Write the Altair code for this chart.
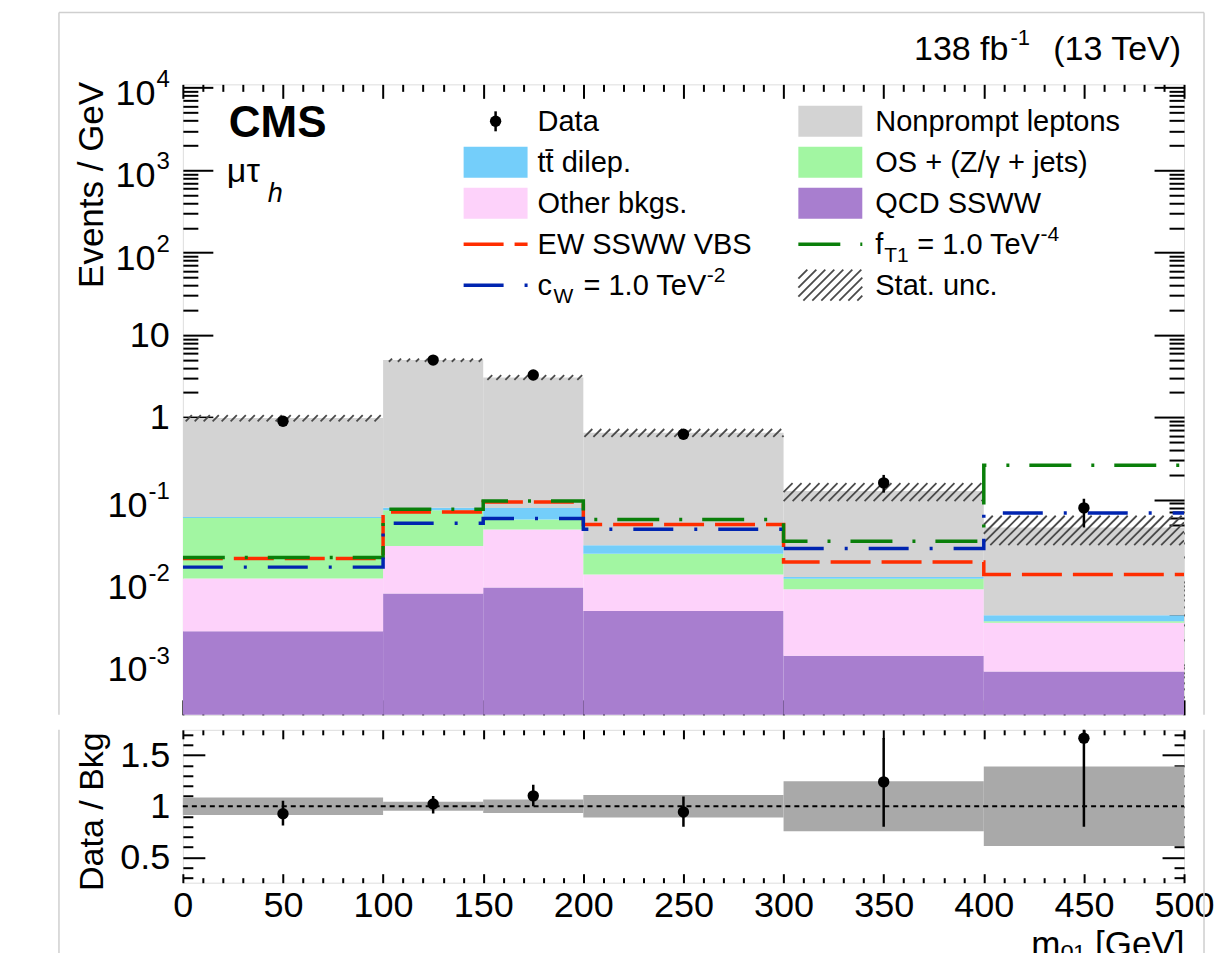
import json
import math
import pandas as pd
import altair as alt

# ---------------- values ----------------
bin_lo = [0, 100, 150, 200, 300, 400]
bin_hi = [100, 150, 200, 300, 400, 500]
bin_center = [50, 125, 175, 250, 350, 450]

# stacked backgrounds (events / GeV), bottom to top
qcd_ssww = [0.00254, 0.00726, 0.00859, 0.00445, 0.00128, 0.00082]
other_bkgs = [0.0085, 0.0202, 0.0348, 0.0079, 0.0069, 0.0024]
os_z_jets = [0.0491, 0.0471, 0.0140, 0.0098, 0.0028, 0.00012]
ttbar_dilep = [0.0017, 0.0056, 0.0222, 0.0059, 0.00055, 0.00061]
nonprompt = [0.918, 4.87, 2.97, 0.622, 0.116, 0.042]

data_obs = [0.895, 4.95, 3.26, 0.622, 0.160, 0.0796]
data_lo = [0.80, 4.64, 3.00, 0.543, 0.122, 0.046]
data_hi = [0.99, 5.26, 3.52, 0.701, 0.200, 0.103]

ew_ssww_vbs = [0.0193, 0.0711, 0.0940, 0.0499, 0.0176, 0.0124]
f_t1 = [0.0199, 0.0767, 0.0966, 0.0574, 0.0314, 0.262]
c_w = [0.0152, 0.0519, 0.0590, 0.0439, 0.0255, 0.0692]

stat_unc_rel = [0.086, 0.045, 0.067, 0.11, 0.245, 0.39]

ratio_obs = [0.927, 1.023, 1.102, 0.943, 1.239, 1.668]
ratio_lo = [0.81, 0.93, 1.00, 0.80, 0.80, 0.80]
ratio_hi = [1.055, 1.10, 1.21, 1.095, 1.67, 2.30]

stack_names = ["QCD SSWW", "Other bkgs.", "OS + (Z/\u03b3 + jets)", "tt\u0304 dilep.", "Nonprompt leptons"]
stack_colors = ["#A87ECF", "#FDD2FA", "#A2F6A2", "#74CEFA", "#D3D3D3"]

y_tick_values = [1e-3, 1e-2, 1e-1, 1, 10, 100, 1e3, 1e4]
y_tick_base = ["10", "10", "10", "1", "10", "10", "10", "10"]
y_tick_exp = ["-3", "-2", "-1", "", "", "2", "3", "4"]
x_tick_values = [0, 50, 100, 150, 200, 250, 300, 350, 400, 450, 500]
x_tick_labels = ["0", "50", "100", "150", "200", "250", "300", "350", "400", "450", "500"]
r_tick_values = [0.5, 1.0, 1.5]
r_tick_labels = ["0.5", "1", "1.5"]

# ---------------- layout constants ----------------
W, H, H2, GAP = 1002, 631, 153, 11
XMIN, XMAX = 0, 500
YMIN, YMAX = 2.45e-4, 1.1e4
RMIN, RMAX = 0.25, 1.75
FONT = "Liberation Sans"
TICK_FS, EXP_FS, TITLE_FS, LEG_FS, SUB_FS = 36, 24, 34, 29, 21
CHAR_W = {"-": 0.333, "0": 0.556, "1": 0.556, "2": 0.556, "3": 0.556, "4": 0.556}

x_top = alt.Scale(domain=[XMIN, XMAX], nice=False, zero=False)
y_top = alt.Scale(type="log", domain=[YMIN, YMAX], nice=False)
x_rat = alt.Scale(domain=[XMIN, XMAX], nice=False, zero=False)
y_rat = alt.Scale(domain=[RMIN, RMAX], nice=False, zero=False)

x_minor = [v for v in range(0, 501, 10) if v % 50]
y_minor = [m * 10.0 ** e for e in range(-4, 5) for m in range(2, 10) if YMIN <= m * 10.0 ** e <= YMAX]
r_minor = [round(0.3 + 0.1 * i, 1) for i in range(15) if round(0.3 + 0.1 * i, 1) not in r_tick_values]


def tick_axis(orient, offset, values, size, width=2):
    return alt.Axis(orient=orient, offset=offset, values=values, tickSize=size, tickWidth=width,
                    tickColor="black", labels=False, domain=False, grid=False, title=None, ticks=True)


def label_expr(values, labels):
    return json.dumps(labels) + "[indexof(" + json.dumps(values) + ", datum.value)]"


def px(field):
    return alt.X(field, scale=None, axis=None)


def py(field):
    return alt.Y(field, scale=None, axis=None)


# ---------------- top panel data ----------------
rows = []
cum = [0.0] * 6
for name, vals in zip(stack_names, [qcd_ssww, other_bkgs, os_z_jets, ttbar_dilep, nonprompt]):
    for i in range(6):
        y0 = cum[i] if cum[i] > 0 else YMIN * 0.1
        y1 = cum[i] + vals[i]
        rows.append({"name": name, "lo": bin_lo[i], "hi": bin_hi[i], "y0": y0, "y1": y1})
        cum[i] = y1
stack_df = pd.DataFrame(rows)
total = cum[:]

# hatched statistical uncertainty band, drawn as 45-degree strokes
PX_PER_DEC = H / (math.log10(YMAX) - math.log10(YMIN))
PX_PER_GEV = W / (XMAX - XMIN)
HATCH_STEP = 9.0 / PX_PER_GEV
hrows = []
for i in range(6):
    llo = math.log10(total[i] * (1 - stat_unc_rel[i]))
    lhi = math.log10(total[i] * (1 + stat_unc_rel[i]))
    d = (lhi - llo) * PX_PER_DEC / PX_PER_GEV
    x0 = bin_lo[i] - d
    while x0 < bin_hi[i]:
        xa, xb, ta, tb = x0, x0 + d, 0.0, 1.0
        if xa < bin_lo[i]:
            ta = (bin_lo[i] - x0) / d
            xa = bin_lo[i]
        if xb > bin_hi[i]:
            tb = (bin_hi[i] - x0) / d
            xb = bin_hi[i]
        if xb > xa:
            hrows.append({"xa": xa, "xb": xb,
                          "ya": 10 ** (llo + ta * (lhi - llo)), "yb": 10 ** (llo + tb * (lhi - llo))})
        x0 += HATCH_STEP
hatch_df = pd.DataFrame(hrows)


def step_df(vals):
    return pd.DataFrame({"x": bin_lo + [bin_hi[-1]], "y": list(vals) + [vals[-1]]})


line_specs = [
    ("EW SSWW VBS", ew_ssww_vbs, "#FF2D00", [40, 11]),
    ("fT1", f_t1, "#0A7F0A", [42, 20, 3, 20]),
    ("cW", c_w, "#0024B0", [40, 21, 3, 21]),
]

data_df = pd.DataFrame({"x": bin_center, "y": data_obs, "lo": data_lo, "hi": data_hi})

# ---------------- top panel layers ----------------
yl_axis = alt.Axis(orient="left", values=y_tick_values, labels=False, ticks=False, tickSize=0,
                   domain=False, grid=False,
                   title="Events / GeV", titleFontSize=TITLE_FS + 1, titleFont=FONT, titleFontWeight="normal",
                   titleColor="black", titleX=-80, titleY=-3, titleAlign="right", titleBaseline="alphabetic",
                   titleAngle=270)

stack = alt.Chart(stack_df).mark_rect(clip=True).encode(
    x=alt.X("lo:Q", scale=x_top, axis=tick_axis("top", -H, x_tick_values, 15)),
    x2="hi:Q",
    y=alt.Y("y0:Q", scale=y_top, axis=yl_axis),
    y2="y1:Q",
    color=alt.Color("name:N", scale=alt.Scale(domain=stack_names, range=stack_colors), legend=None),
)

hatch = alt.Chart(hatch_df).mark_rule(color="#4a4a4a", strokeWidth=1.8, clip=True).encode(
    x=alt.X("xa:Q", scale=x_top, axis=tick_axis("top", -H, x_minor, 8)),
    x2="xb:Q",
    y=alt.Y("ya:Q", scale=y_top, axis=tick_axis("right", -W, y_tick_values, 30)),
    y2="yb:Q",
)

line_axes = [
    (tick_axis("bottom", -H, x_tick_values, 14), tick_axis("right", -W, y_minor, 15)),
    (tick_axis("bottom", -H, x_minor, 7), tick_axis("left", -W, y_tick_values, 30)),
    (None, tick_axis("left", -W, y_minor, 15)),
]
lines = []
for (name, vals, col, dash), (ax, ay) in zip(line_specs, line_axes):
    lines.append(alt.Chart(step_df(vals)).mark_line(
        interpolate="step-after", color=col, strokeWidth=3.5, strokeDash=dash, clip=True).encode(
        x=alt.X("x:Q", scale=x_top, axis=ax),
        y=alt.Y("y:Q", scale=y_top, axis=ay),
    ))

err = alt.Chart(data_df).mark_rule(color="black", strokeWidth=2.5, clip=True).encode(
    x=alt.X("x:Q", scale=x_top, axis=None),
    y=alt.Y("lo:Q", scale=y_top, axis=None),
    y2="hi:Q",
)
pts = alt.Chart(data_df).mark_circle(color="black", size=130, opacity=1).encode(
    x=alt.X("x:Q", scale=x_top, axis=None),
    y=alt.Y("y:Q", scale=y_top, axis=None),
)

# y tick labels with real superscripted exponents
LBL_X = -13
ylab_df = pd.DataFrame({"value": y_tick_values, "base": y_tick_base, "exp": y_tick_exp})
ylab_df["bx"] = [LBL_X - (sum(CHAR_W[c] for c in e) * EXP_FS + 1 if e else 0) for e in y_tick_exp]
ylab_exp_rows = ylab_df[ylab_df["exp"] != ""]
ylab_plain_rows = ylab_df[ylab_df["exp"] == ""]
ylab_base_e = alt.Chart(ylab_exp_rows).mark_text(align="right", baseline="middle", font=FONT,
                                                 fontSize=TICK_FS, color="black", dy=6).encode(
    x=px("bx:Q"), y=alt.Y("value:Q", scale=y_top, axis=None), text="base:N")
ylab_exp = alt.Chart(ylab_exp_rows).mark_text(align="right", baseline="middle", font=FONT,
                                              fontSize=EXP_FS, color="black", dy=-8).encode(
    x=alt.value(LBL_X), y=alt.Y("value:Q", scale=y_top, axis=None), text="exp:N")
ylab_plain = alt.Chart(ylab_plain_rows).mark_text(align="right", baseline="middle", font=FONT,
                                                  fontSize=TICK_FS, color="black", dy=1).encode(
    x=px("bx:Q"), y=alt.Y("value:Q", scale=y_top, axis=None), text="base:N")

# ---------------- legend (pixel layout inside the plot) ----------------
COL_X = [281, 616]
ROW_Y = [37 + 41 * r for r in range(5)]
BOX_W, BOX_H = 64, 31
leg_boxes = pd.DataFrame([
    {"x": COL_X[0], "row": 1, "color": stack_colors[3]},
    {"x": COL_X[0], "row": 2, "color": stack_colors[1]},
    {"x": COL_X[1], "row": 0, "color": stack_colors[4]},
    {"x": COL_X[1], "row": 1, "color": stack_colors[2]},
    {"x": COL_X[1], "row": 2, "color": stack_colors[0]},
])
leg_boxes["x2"] = leg_boxes["x"] + BOX_W
leg_boxes["y"] = [ROW_Y[r] - BOX_H / 2 for r in leg_boxes["row"]]
leg_boxes["y2"] = leg_boxes["y"] + BOX_H
leg_box_layer = alt.Chart(leg_boxes).mark_rect().encode(
    x=px("x:Q"), x2="x2:Q", y=py("y:Q"), y2="y2:Q", color=alt.Color("color:N", scale=None))

leg_line_layers = []
for (name, vals, col, dash), (cx, r) in zip(line_specs, [(0, 3), (1, 3), (0, 4)]):
    ldf = pd.DataFrame({"x": [COL_X[cx]], "x2": [COL_X[cx] + BOX_W], "y": [ROW_Y[r]]})
    leg_line_layers.append(alt.Chart(ldf).mark_rule(color=col, strokeWidth=3.5, strokeDash=dash).encode(
        x=px("x:Q"), x2="x2:Q", y=py("y:Q")))

leg_data_df = pd.DataFrame({"x": [COL_X[0] + BOX_W / 2], "y": [ROW_Y[0]],
                            "y0": [ROW_Y[0] - 10], "y1": [ROW_Y[0] + 10]})
leg_data_err = alt.Chart(leg_data_df).mark_rule(color="black", strokeWidth=2.5).encode(
    x=px("x:Q"), y=py("y0:Q"), y2="y1:Q")
leg_data_pt = alt.Chart(leg_data_df).mark_circle(color="black", size=130, opacity=1).encode(
    x=px("x:Q"), y=py("y:Q"))

# hatched legend box
hb_x0, hb_x1 = COL_X[1], COL_X[1] + BOX_W
hb_y0, hb_y1 = ROW_Y[4] - BOX_H / 2, ROW_Y[4] + BOX_H / 2
lrows = []
s = hb_x0 - BOX_H
while s < hb_x1:
    xa, xb = s, s + BOX_H
    ya, yb = hb_y1, hb_y0
    if xa < hb_x0:
        ya = hb_y1 - (hb_x0 - xa)
        xa = hb_x0
    if xb > hb_x1:
        yb = hb_y0 + (xb - hb_x1)
        xb = hb_x1
    if xb > xa:
        lrows.append({"xa": xa, "xb": xb, "ya": ya, "yb": yb})
    s += 9
leg_hatch = alt.Chart(pd.DataFrame(lrows)).mark_rule(color="#4a4a4a", strokeWidth=1.8).encode(
    x=px("xa:Q"), x2="xb:Q", y=py("ya:Q"), y2="yb:Q")

TX = [COL_X[0] + 74, COL_X[1] + 77]
BASE = [y + 10 for y in ROW_Y]
EQ_W = 4.22 * LEG_FS  # width of "= 1.0 TeV" plus a hair
leg_text = pd.DataFrame([
    {"x": TX[0], "y": BASE[0], "t": "Data", "s": LEG_FS},
    {"x": TX[0], "y": BASE[1], "t": "tt\u0304 dilep.", "s": LEG_FS},
    {"x": TX[0], "y": BASE[2], "t": "Other bkgs.", "s": LEG_FS},
    {"x": TX[0], "y": BASE[3], "t": "EW SSWW VBS", "s": LEG_FS},
    {"x": TX[0], "y": BASE[4], "t": "c", "s": LEG_FS},
    {"x": TX[0] + 16, "y": BASE[4] + 8, "t": "W", "s": SUB_FS},
    {"x": TX[0] + 46, "y": BASE[4], "t": "= 1.0 TeV", "s": LEG_FS},
    {"x": TX[0] + 47 + EQ_W, "y": BASE[4] - 13, "t": "-2", "s": SUB_FS},
    {"x": TX[1], "y": BASE[0], "t": "Nonprompt leptons", "s": LEG_FS},
    {"x": TX[1], "y": BASE[1], "t": "OS + (Z/\u03b3 + jets)", "s": LEG_FS},
    {"x": TX[1], "y": BASE[2], "t": "QCD SSWW", "s": LEG_FS},
    {"x": TX[1], "y": BASE[3], "t": "f", "s": LEG_FS},
    {"x": TX[1] + 9, "y": BASE[3] + 8, "t": "T1", "s": SUB_FS},
    {"x": TX[1] + 42, "y": BASE[3], "t": "= 1.0 TeV", "s": LEG_FS},
    {"x": TX[1] + 43 + EQ_W, "y": BASE[3] - 13, "t": "-4", "s": SUB_FS},
    {"x": TX[1], "y": BASE[4], "t": "Stat. unc.", "s": LEG_FS},
])
leg_text_layer = alt.Chart(leg_text).mark_text(align="left", baseline="alphabetic", font=FONT,
                                               color="black").encode(
    x=px("x:Q"), y=py("y:Q"), text="t:N", size=alt.Size("s:Q", scale=None))

# CMS label, channel, luminosity
one = pd.DataFrame({"a": [0]})
cms_txt = alt.Chart(one).mark_text(align="left", baseline="alphabetic", font=FONT, fontSize=44,
                                   fontWeight="bold", color="black").encode(
    x=alt.value(46), y=alt.value(53), text=alt.value("CMS"))
chan_txt = alt.Chart(one).mark_text(align="left", baseline="alphabetic", font=FONT, fontSize=34,
                                    color="black").encode(
    x=alt.value(44), y=alt.value(98), text=alt.value("\u03bc\u03c4"))
chan_sub = alt.Chart(one).mark_text(align="left", baseline="alphabetic", font=FONT, fontSize=27,
                                    fontStyle="italic", color="black").encode(
    x=alt.value(85), y=alt.value(118), text=alt.value("h"))

LUMI_FS, LUMI_SUP = 34, 22
lumi_r = W - 3
lumi_paren_w = 3.89 * LUMI_FS
lumi_sup_r = lumi_r - lumi_paren_w - 0.556 * LUMI_FS
lumi_sup_w = (0.333 + 0.556) * LUMI_SUP
lumi_df = pd.DataFrame([
    {"x": lumi_r, "y": -24, "t": "(13 TeV)", "s": LUMI_FS},
    {"x": lumi_sup_r, "y": -39, "t": "-1", "s": LUMI_SUP},
    {"x": lumi_sup_r - lumi_sup_w - 2, "y": -24, "t": "138 fb", "s": LUMI_FS},
])
lumi_txt = alt.Chart(lumi_df).mark_text(align="right", baseline="alphabetic", font=FONT,
                                        color="black").encode(
    x=px("x:Q"), y=py("y:Q"), text="t:N", size=alt.Size("s:Q", scale=None))

# light frame around the figure (top and sides of the upper part)
FR_L, FR_R, FR_T = -124, W + 20, -72
frame_top_df = pd.DataFrame({"x": [FR_L, FR_L, FR_R], "x2": [FR_R, FR_L, FR_R],
                             "y": [FR_T, FR_T, FR_T], "y2": [FR_T, H, H]})
frame_top = alt.Chart(frame_top_df).mark_rule(color="#cfcfcf", strokeWidth=1.5).encode(
    x=px("x:Q"), x2="x2:Q", y=py("y:Q"), y2="y2:Q")

top = alt.layer(
    stack, hatch, *lines, err, pts, ylab_base_e, ylab_exp, ylab_plain,
    leg_box_layer, *leg_line_layers, leg_hatch, leg_data_err, leg_data_pt, leg_text_layer,
    cms_txt, chan_txt, chan_sub, lumi_txt, frame_top,
).resolve_axis(x="independent", y="independent").properties(width=W, height=H)

# ---------------- ratio panel ----------------
band_df = pd.DataFrame({"lo": bin_lo, "hi": bin_hi,
                        "b0": [1 - r for r in stat_unc_rel], "b1": [1 + r for r in stat_unc_rel]})
ratio_df = pd.DataFrame({"x": bin_center, "y": ratio_obs, "lo": ratio_lo, "hi": ratio_hi})
unity_df = pd.DataFrame({"x": [XMIN], "x2": [XMAX], "y": [1.0]})

xl_axis = alt.Axis(orient="bottom", values=x_tick_values, labelExpr=label_expr(x_tick_values, x_tick_labels),
                   ticks=False, tickSize=0, domain=False, grid=False, labelFontSize=TICK_FS, labelPadding=6,
                   labelFont=FONT, labelColor="black", labelFlush=False, labelOverlap=False, labelBound=False,
                   title="m\u2092\u2081 [GeV]", titleFontSize=TITLE_FS + 1, titleFont=FONT,
                   titleFontWeight="normal", titleColor="black", titleX=W, titleY=45,
                   titleAlign="right", titleBaseline="top")
rl_axis = alt.Axis(orient="left", values=r_tick_values, labelExpr=label_expr(r_tick_values, r_tick_labels),
                   ticks=False, tickSize=0, domain=False, grid=False, labelFontSize=TICK_FS, labelPadding=13,
                   labelFont=FONT, labelColor="black", labelOverlap=False, labelBound=False,
                   title="Data / Bkg", titleFontSize=TITLE_FS, titleFont=FONT, titleFontWeight="normal",
                   titleColor="black", titleX=-80, titleY=2, titleAlign="right", titleBaseline="alphabetic",
                   titleAngle=270)

band = alt.Chart(band_df).mark_rect(color="#A9A9A9").encode(
    x=alt.X("lo:Q", scale=x_rat, axis=xl_axis), x2="hi:Q",
    y=alt.Y("b0:Q", scale=y_rat, axis=rl_axis), y2="b1:Q")
unity = alt.Chart(unity_df).mark_rule(color="black", strokeWidth=2, strokeDash=[5, 4]).encode(
    x=alt.X("x:Q", scale=x_rat, axis=tick_axis("top", -H2, x_tick_values, 9)), x2="x2:Q",
    y=alt.Y("y:Q", scale=y_rat, axis=tick_axis("right", -W, r_tick_values, 22)))
r_err = alt.Chart(ratio_df).mark_rule(color="black", strokeWidth=2.5, clip=True).encode(
    x=alt.X("x:Q", scale=x_rat, axis=tick_axis("top", -H2, x_minor, 5)),
    y=alt.Y("lo:Q", scale=y_rat, axis=tick_axis("right", -W, r_minor, 10)), y2="hi:Q")
r_pts = alt.Chart(ratio_df).mark_circle(color="black", size=130, opacity=1, clip=True).encode(
    x=alt.X("x:Q", scale=x_rat, axis=tick_axis("bottom", -H2, x_tick_values, 9)),
    y=alt.Y("y:Q", scale=y_rat, axis=tick_axis("left", -W, r_tick_values, 22)))
r_axes = alt.Chart(band_df).mark_rect(opacity=0).encode(
    x=alt.X("lo:Q", scale=x_rat, axis=tick_axis("bottom", -H2, x_minor, 5)), x2="hi:Q",
    y=alt.Y("b0:Q", scale=y_rat, axis=tick_axis("left", -W, r_minor, 10)), y2="b1:Q")

frame_bot_df = pd.DataFrame({"x": [FR_L, FR_R], "y": [0, 0], "y2": [H2 + 120, H2 + 120]})
frame_bot = alt.Chart(frame_bot_df).mark_rule(color="#cfcfcf", strokeWidth=1.5).encode(
    x=px("x:Q"), y=py("y:Q"), y2="y2:Q")

ratio = alt.layer(band, unity, r_err, r_pts, r_axes, frame_bot).resolve_axis(
    x="independent", y="independent").properties(width=W, height=H2)

chart = alt.vconcat(top, ratio, spacing=GAP).properties(
    padding={"left": 49, "top": 2, "right": 5, "bottom": 0}
).configure_view(stroke="black", strokeWidth=2).configure(font=FONT)

chart.save("out.html", embed_options={"renderer": "svg", "actions": False})
